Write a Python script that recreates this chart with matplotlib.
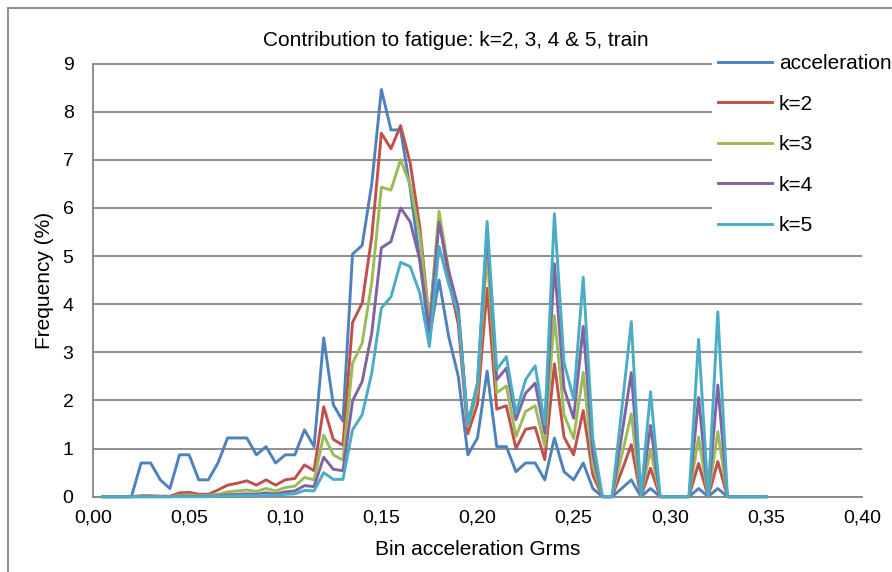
import numpy as np
import matplotlib
matplotlib.use("Agg")
import matplotlib.pyplot as plt
from matplotlib.patches import Rectangle

plt.rcParams['font.family'] = ['Liberation Sans', 'DejaVu Sans']

# ---- data ----
bins = np.round(np.arange(1, 71) * 0.005, 3)   # 0.005 ... 0.350

acceleration = [0, 0, 0, 0, 0.70, 0.70, 0.35, 0.17, 0.87, 0.87,
                0.35, 0.35, 0.70, 1.22, 1.22, 1.22, 0.87, 1.04, 0.70, 0.87,
                0.87, 1.39, 1.04, 3.30, 1.91, 1.57, 5.04, 5.22, 6.50, 8.46,
                7.62, 7.62, 6.40, 4.90, 3.30, 4.50, 3.33, 2.50, 0.87, 1.22,
                2.61, 1.04, 1.04, 0.52, 0.70, 0.70, 0.35, 1.22, 0.52, 0.35,
                0.70, 0.17, 0, 0, 0.17, 0.35, 0, 0.17, 0, 0,
                0, 0, 0.17, 0, 0.17, 0, 0, 0, 0, 0]

k2 = [0, 0, 0, 0, 0.02, 0.02, 0.01, 0.01, 0.08, 0.09,
      0.05, 0.05, 0.14, 0.24, 0.28, 0.33, 0.24, 0.35, 0.24, 0.35,
      0.38, 0.66, 0.54, 1.87, 1.19, 1.07, 3.62, 4.02, 5.40, 7.55,
      7.23, 7.71, 6.93, 5.60, 3.60, 5.80, 4.52, 3.58, 1.31, 1.93,
      4.33, 1.82, 1.89, 1.00, 1.40, 1.44, 0.77, 2.76, 1.24, 0.87,
      1.79, 0.45, 0, 0, 0.53, 1.08, 0, 0.59, 0, 0,
      0, 0, 0.69, 0, 0.73, 0, 0, 0, 0, 0]

k3 = [0, 0, 0, 0, 0.005, 0.005, 0.004, 0.002, 0.03, 0.04,
      0.02, 0.03, 0.05, 0.10, 0.12, 0.14, 0.11, 0.17, 0.12, 0.19,
      0.22, 0.40, 0.35, 1.28, 0.87, 0.76, 2.77, 3.19, 4.45, 6.43,
      6.37, 7.00, 6.48, 5.43, 3.60, 5.93, 4.70, 3.85, 1.46, 2.20,
      5.05, 2.16, 2.30, 1.25, 1.77, 1.89, 1.05, 3.76, 1.70, 1.21,
      2.58, 0.65, 0, 0, 0.85, 1.72, 0, 0.97, 0, 0,
      0, 0, 1.24, 0, 1.35, 0, 0, 0, 0, 0]

k4 = [0, 0, 0, 0, 0, 0, 0, 0, 0.01, 0.01,
      0.005, 0.01, 0.02, 0.04, 0.05, 0.06, 0.05, 0.08, 0.06, 0.10,
      0.12, 0.23, 0.21, 0.82, 0.57, 0.54, 1.99, 2.39, 3.40, 5.17,
      5.30, 6.00, 5.71, 4.92, 3.45, 5.70, 4.69, 3.92, 1.51, 2.35,
      5.50, 2.43, 2.67, 1.60, 2.15, 2.36, 1.32, 4.84, 2.25, 1.63,
      3.54, 0.90, 0, 0, 1.27, 2.58, 0, 1.48, 0, 0,
      0, 0, 2.06, 0, 2.32, 0, 0, 0, 0, 0]

k5 = [0, 0, 0, 0, 0, 0, 0, 0, 0, 0,
      0, 0, 0.01, 0.01, 0.02, 0.03, 0.02, 0.04, 0.03, 0.05,
      0.06, 0.13, 0.12, 0.50, 0.36, 0.36, 1.39, 1.70, 2.57, 3.92,
      4.15, 4.87, 4.78, 4.23, 3.12, 5.20, 4.42, 3.78, 1.50, 2.37,
      5.72, 2.64, 2.91, 1.73, 2.43, 2.72, 1.50, 5.88, 2.79, 2.03,
      4.56, 1.20, 0, 0, 1.80, 3.64, 0, 2.18, 0, 0,
      0, 0, 3.27, 0, 3.84, 0, 0, 0, 0, 0]

series_names = ['acceleration', 'k=2', 'k=3', 'k=4', 'k=5']
series_colors = ['#4F81BD', '#C0504D', '#9BBB59', '#8064A2', '#4BACC6']

xticks = [0.00, 0.05, 0.10, 0.15, 0.20, 0.25, 0.30, 0.35, 0.40]
xtick_labels = ['0,00', '0,05', '0,10', '0,15', '0,20', '0,25', '0,30', '0,35', '0,40']
yticks = [0, 1, 2, 3, 4, 5, 6, 7, 8, 9]

title = 'Contribution to fatigue: k=2, 3, 4 & 5, train'
xlabel = 'Bin acceleration Grms'
ylabel = 'Frequency (%)'

# ---- figure ----
W, H = 892, 572
fig = plt.figure(figsize=(W / 100, H / 100), dpi=100)
fig.patch.set_facecolor('white')

left, right, top, bottom = 93, 862, 63.5, 496.7
ax = fig.add_axes([left / W, 1 - bottom / H, (right - left) / W, (bottom - top) / H])

grid_c = '#868686'
ax.set_xlim(0, 0.40)
ax.set_ylim(0, 9)
ax.set_xticks(xticks)
ax.set_xticklabels(xtick_labels)
ax.set_yticks(yticks)
ax.tick_params(axis='both', length=0, labelsize=14)
ax.tick_params(axis='y', pad=14)
ax.tick_params(axis='x', pad=9)
for s in ['top', 'right']:
    ax.spines[s].set_visible(False)
for s in ['left', 'bottom']:
    ax.spines[s].set_color(grid_c)
    ax.spines[s].set_linewidth(1.3)
ax.yaxis.grid(True, color=grid_c, linewidth=1.3)
ax.set_axisbelow(True)

for name, vals, col in zip(series_names, [acceleration, k2, k3, k4, k5], series_colors):
    ax.plot(bins, vals, color=col, lw=2.1, label=name, clip_on=False, zorder=3)

ax.set_xlabel(xlabel, fontsize=15, labelpad=10)
ax.set_ylabel(ylabel, fontsize=15, labelpad=6)
fig.text(456 / W, 1 - 41 / H, title, fontsize=15, ha='center', va='center')

leg = ax.legend(loc='upper left', bbox_to_anchor=(712 / W, 1 - 48 / H),
                bbox_transform=fig.transFigure, frameon=True, fancybox=False,
                facecolor='white', edgecolor='white', framealpha=1,
                fontsize=15, handlelength=2.6, handletextpad=0.3,
                labelspacing=1.03, borderpad=0.3, borderaxespad=0)
leg.set_zorder(5)

# outer chart frame
fig.patches.append(Rectangle((8 / W, 1 - 600 / H), (920 - 8) / W, (600 - 8) / H,
                             transform=fig.transFigure, fill=False,
                             edgecolor=grid_c, linewidth=1.3))

fig.savefig('out.png', dpi=100)
